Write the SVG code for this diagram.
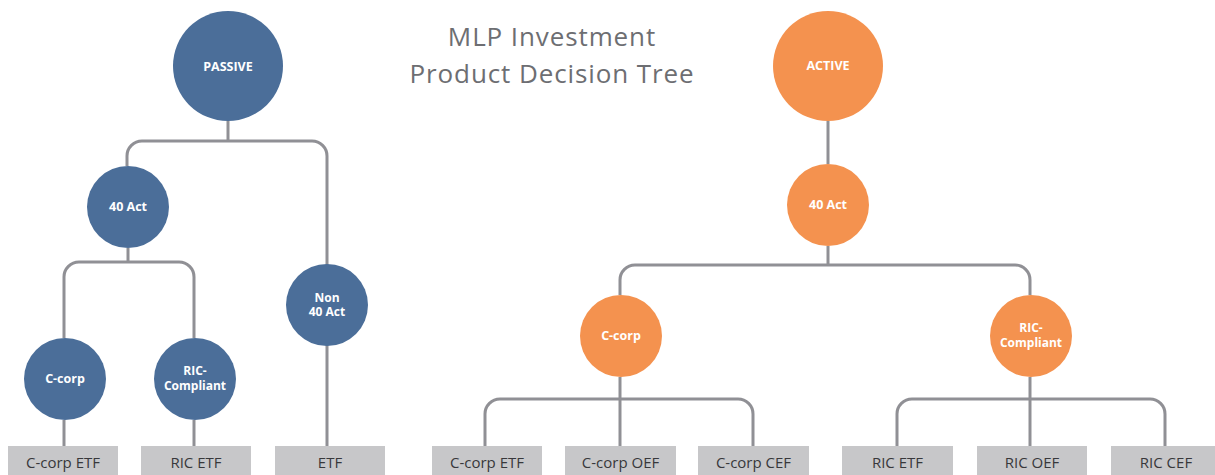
<svg xmlns="http://www.w3.org/2000/svg" width="1215" height="475" viewBox="0 0 1215 475">
  <style>
    .bg { fill: #ffffff; }
    .link { fill: none; stroke: #909095; stroke-width: 3; }
    .passive { fill: #4b6e99; }
    .active { fill: #f4924f; }
    .node-label { font-family: "Open Sans", "Liberation Sans", sans-serif; font-weight: 700; font-size: 12.5px; fill: #ffffff; text-anchor: middle; }
    .node-label.small { font-size: 12px; }
    .leaf { fill: #c7c7c9; }
    .leaf-label { font-family: "Open Sans", "Liberation Sans", sans-serif; font-size: 15px; fill: #38383b; text-anchor: middle; }
    .title { font-family: "Open Sans", "Liberation Sans", sans-serif; font-weight: 400; font-size: 26px; fill: #6d6e72; text-anchor: middle; letter-spacing: 0.9px; }
  </style>

  <rect class="bg" x="0" y="0" width="1215" height="475"/>

  <!-- title -->
  <g id="title">
    <text class="title" x="552" y="46">MLP Investment</text>
    <text class="title" x="552" y="83">Product Decision Tree</text>
  </g>

  <!-- connectors -->
  <g id="connectors">
    <!-- passive branch -->
    <path class="link" d="M228,121 V141"/>
    <path class="link" d="M127,166 V156 A15,15 0 0 1 142,141 H312 A15,15 0 0 1 327,156 V446"/>
    <path class="link" d="M128,248 V262"/>
    <path class="link" d="M64,338 V277 A15,15 0 0 1 79,262 H179 A15,15 0 0 1 194,277 V338"/>
    <path class="link" d="M64,420 V446"/>
    <path class="link" d="M194,420 V446"/>
    <!-- active branch -->
    <path class="link" d="M828,121 V164"/>
    <path class="link" d="M828,246 V265"/>
    <path class="link" d="M620,295 V280 A15,15 0 0 1 635,265 H1015 A15,15 0 0 1 1030,280 V295"/>
    <path class="link" d="M620,377 V446"/>
    <path class="link" d="M485,446 V414 A15,15 0 0 1 500,399 H738 A15,15 0 0 1 753,414 V446"/>
    <path class="link" d="M1030,377 V446"/>
    <path class="link" d="M897,446 V414 A15,15 0 0 1 912,399 H1150 A15,15 0 0 1 1165,414 V446"/>
  </g>

  <!-- passive tree -->
  <g id="passive">
    <circle class="passive" cx="228" cy="66" r="55"/>
    <text class="node-label" x="228" y="71">PASSIVE</text>
  </g>
  <g id="passive-40act">
    <circle class="passive" cx="128" cy="207" r="41"/>
    <text class="node-label" x="128" y="211">40 Act</text>
  </g>
  <g id="passive-non40act">
    <circle class="passive" cx="327" cy="305" r="41"/>
    <text class="node-label small" x="327" y="301.5">Non<tspan x="327" dy="14.5">40 Act</tspan></text>
  </g>
  <g id="passive-ccorp">
    <circle class="passive" cx="65" cy="379" r="41"/>
    <text class="node-label" x="65" y="383">C-corp</text>
  </g>
  <g id="passive-ric">
    <circle class="passive" cx="195" cy="379" r="41"/>
    <text class="node-label small" x="195" y="375">RIC-<tspan x="195" dy="14.5">Compliant</tspan></text>
  </g>

  <!-- active tree -->
  <g id="active">
    <circle class="active" cx="828" cy="66" r="55"/>
    <text class="node-label" x="828" y="70">ACTIVE</text>
  </g>
  <g id="active-40act">
    <circle class="active" cx="828" cy="205" r="41"/>
    <text class="node-label" x="828" y="209">40 Act</text>
  </g>
  <g id="active-ccorp">
    <circle class="active" cx="621" cy="336" r="41"/>
    <text class="node-label" x="621" y="340">C-corp</text>
  </g>
  <g id="active-ric">
    <circle class="active" cx="1031" cy="336" r="41"/>
    <text class="node-label small" x="1031" y="332">RIC-<tspan x="1031" dy="14.5">Compliant</tspan></text>
  </g>

  <!-- product leaves -->
  <g id="leaf-ccorp-etf-passive">
    <rect class="leaf" x="8" y="446" width="110" height="32"/>
    <text class="leaf-label" x="63" y="468">C-corp ETF</text>
  </g>
  <g id="leaf-ric-etf-passive">
    <rect class="leaf" x="141" y="446" width="110" height="32"/>
    <text class="leaf-label" x="196" y="468">RIC ETF</text>
  </g>
  <g id="leaf-etf">
    <rect class="leaf" x="275" y="446" width="110" height="32"/>
    <text class="leaf-label" x="330" y="468">ETF</text>
  </g>
  <g id="leaf-ccorp-etf">
    <rect class="leaf" x="432" y="446" width="110" height="32"/>
    <text class="leaf-label" x="487" y="468">C-corp ETF</text>
  </g>
  <g id="leaf-ccorp-oef">
    <rect class="leaf" x="565" y="446" width="111" height="32"/>
    <text class="leaf-label" x="620.5" y="468">C-corp OEF</text>
  </g>
  <g id="leaf-ccorp-cef">
    <rect class="leaf" x="698" y="446" width="111" height="32"/>
    <text class="leaf-label" x="753.5" y="468">C-corp CEF</text>
  </g>
  <g id="leaf-ric-etf">
    <rect class="leaf" x="842" y="446" width="111" height="32"/>
    <text class="leaf-label" x="897.5" y="468">RIC ETF</text>
  </g>
  <g id="leaf-ric-oef">
    <rect class="leaf" x="977" y="446" width="110" height="32"/>
    <text class="leaf-label" x="1032" y="468">RIC OEF</text>
  </g>
  <g id="leaf-ric-cef">
    <rect class="leaf" x="1111" y="446" width="110" height="32"/>
    <text class="leaf-label" x="1166" y="468">RIC CEF</text>
  </g>
</svg>
